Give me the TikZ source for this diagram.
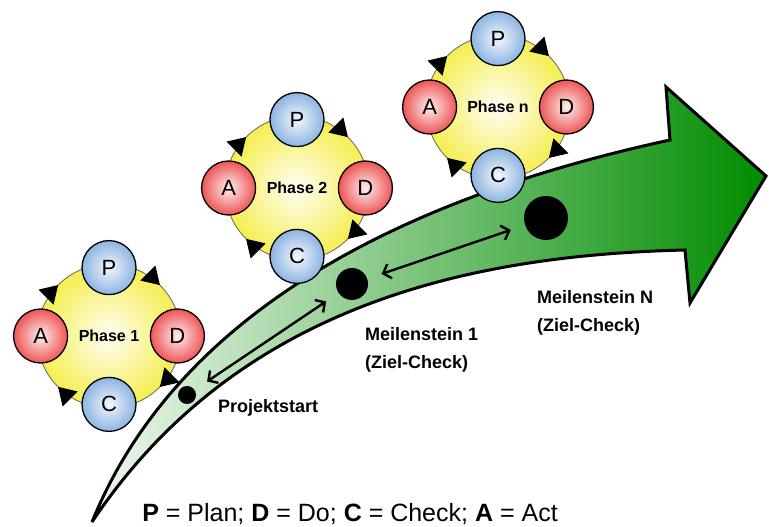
\documentclass[tikz,border=0pt]{standalone}
\usepackage{fontspec}
\setmainfont{Liberation Sans}
\usepackage{tikz}
\usetikzlibrary{arrows.meta,decorations.markings}
\usetikzlibrary{positioning}

\definecolor{pdblue}{RGB}{140,180,225}
\definecolor{pdred}{RGB}{238,85,85}
\definecolor{pdyellow}{RGB}{245,238,80}
\definecolor{paleleaf}{RGB}{240,248,240}
\definecolor{darkleaf}{RGB}{0,140,0}

\begin{document}
\begin{tikzpicture}[x=1pt,y=1pt,
	ring/.style={circle,draw=black!60,line width=0.8pt,minimum size=144pt,inner sep=0pt,
		inner color=pdyellow!6,outer color=pdyellow,
		font=\fontsize{16}{18}\selectfont\bfseries,
		postaction={decorate,decoration={markings,
			mark=between positions 0.125 and 0.9 step 0.25 with {\arrowreversed[black]{Triangle[length=17pt,width=21pt]}}}}},
	sat/.style={circle,draw,line width=1.3pt,minimum size=54pt,inner sep=0pt,font=\fontsize{22}{24}\selectfont},
	plan/.style={sat,inner color=pdblue!10,outer color=pdblue},
	act/.style={sat,inner color=pdred!10,outer color=pdred},
	dot/.style={circle,fill=black,inner sep=0pt},
	lbl/.style={font=\fontsize{18}{28}\selectfont\bfseries,inner sep=0pt,align=left},
	gap/.style={{Straight Barb[length=7pt,width=15pt]}-{Straight Barb[length=7pt,width=15pt]},
		line width=2.4pt,shorten <=15pt,shorten >=15pt}]

						\useasboundingbox (0,0) rectangle (769,527);

						% project arrow
						\shadedraw[left color=paleleaf,right color=darkleaf,line width=3pt,line join=miter]
							(92,5) .. controls (170,197) and (370,322) .. (670,387)
							-- (666,440) -- (766,351) -- (690,224) -- (685,277)
							.. controls (480,272) and (240,227) .. (92,5) -- cycle;

						% PDCA cycles
						\foreach \n/\x/\y in {1/109/191,2/297/339,n/498/420}{
							\node[ring] (ph\n) at (\x,\y) {Phase \n};
							\node[plan] (p\n) at ([yshift=-4pt]ph\n.north) {P};
							\node[act] (d\n) at ([xshift=-4pt]ph\n.east) {D};
							\node[plan] (c\n) at ([yshift=4pt]ph\n.south) {C};
							\node[act] (a\n) at ([xshift=4pt]ph\n.west) {A};
						}

						% milestones
						\node[dot,minimum size=18pt] (start) at (187,132) {};
						\node[dot,minimum size=32pt] (ms1) at (352,243) {};
						\node[dot,minimum size=44pt] (msN) at (546,309) {};
						\draw[gap] (start) -- (ms1);
						\draw[gap] (ms1) -- (msN);

						\node[lbl,anchor=base west] (startlbl) at (218,114) {Projektstart};
						\node[lbl,anchor=north west] (ms1lbl) at (365,200) {Meilenstein 1\\(Ziel-Check)};
						\node[lbl,anchor=north west] (msNlbl) at (537,237) {Meilenstein N\\(Ziel-Check)};

						\node[font=\fontsize{25}{28}\selectfont,inner sep=0pt,anchor=base] (legend) at (350,5)
							{\textbf{P} = Plan; \textbf{D} = Do; \textbf{C} = Check; \textbf{A} = Act};
					\end{tikzpicture}
\end{document}
